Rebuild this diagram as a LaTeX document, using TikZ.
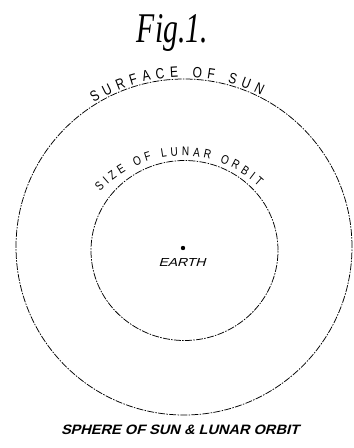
\documentclass[tikz,border=0pt]{standalone}
\usepackage{fontspec}
\usepackage{graphicx}
\usetikzlibrary{decorations.text,calc}
\newfontfamily\figfont{Liberation Serif}
\newfontfamily\capfont[FakeSlant=0.2,FakeStretch=0.8]{Liberation Sans}
\newfontfamily\arcfont[FakeStretch=0.8]{Liberation Sans}
\begin{document}
\begin{tikzpicture}[x=1pt,y=1pt,
  orbitline/.style={line width=0.75pt, dash pattern=on 7pt off 1.3pt on 1.5pt off 1.3pt},
  arctext/.style={decorate, decoration={text along path, text align={fit to path}, text format delimiters={|}{|}, text={#1}}}
]
\useasboundingbox (0,0) rectangle (354,448);
% centres
\coordinate (sun) at (184,201);
\coordinate (moonc) at (184.5,197.5);
\coordinate (earthc) at (183,200);
% outer and inner circles
\draw[orbitline] (sun) circle[radius=168];
\draw[orbitline] (moonc) ellipse[x radius=93.5, y radius=90];
% earth
\fill (earthc) circle[radius=2.2];
\node[anchor=base, inner sep=0] (earth) at (182,181) {\resizebox{47pt}{8pt}{\capfont EARTH}};
% title
\node[anchor=base, inner sep=0] (title) at (172.5,405) {\resizebox{71pt}{28pt}{\figfont\itshape Fig.1.}};
% caption
\node[anchor=base, inner sep=0] (caption) at (180,13) {\resizebox{238pt}{9.5pt}{\capfont\bfseries SPHERE OF SUN \& LUNAR ORBIT}};
% arc labels
\coordinate (o1) at (184,201);
\path[arctext={|\arcfont\fontsize{15}{15}\selectfont|SURFACE OF SUN}]
  ($(o1)+(122:170)$) arc[start angle=122, end angle=63, radius=170];
\coordinate (o2) at (182,180);
\path[arctext={|\arcfont\fontsize{12.5}{12.5}\selectfont|SIZE OF LUNAR ORBIT}]
  ($(o2)+(137:112)$) arc[start angle=137, end angle=47, radius=112];
\end{tikzpicture}
\end{document}
